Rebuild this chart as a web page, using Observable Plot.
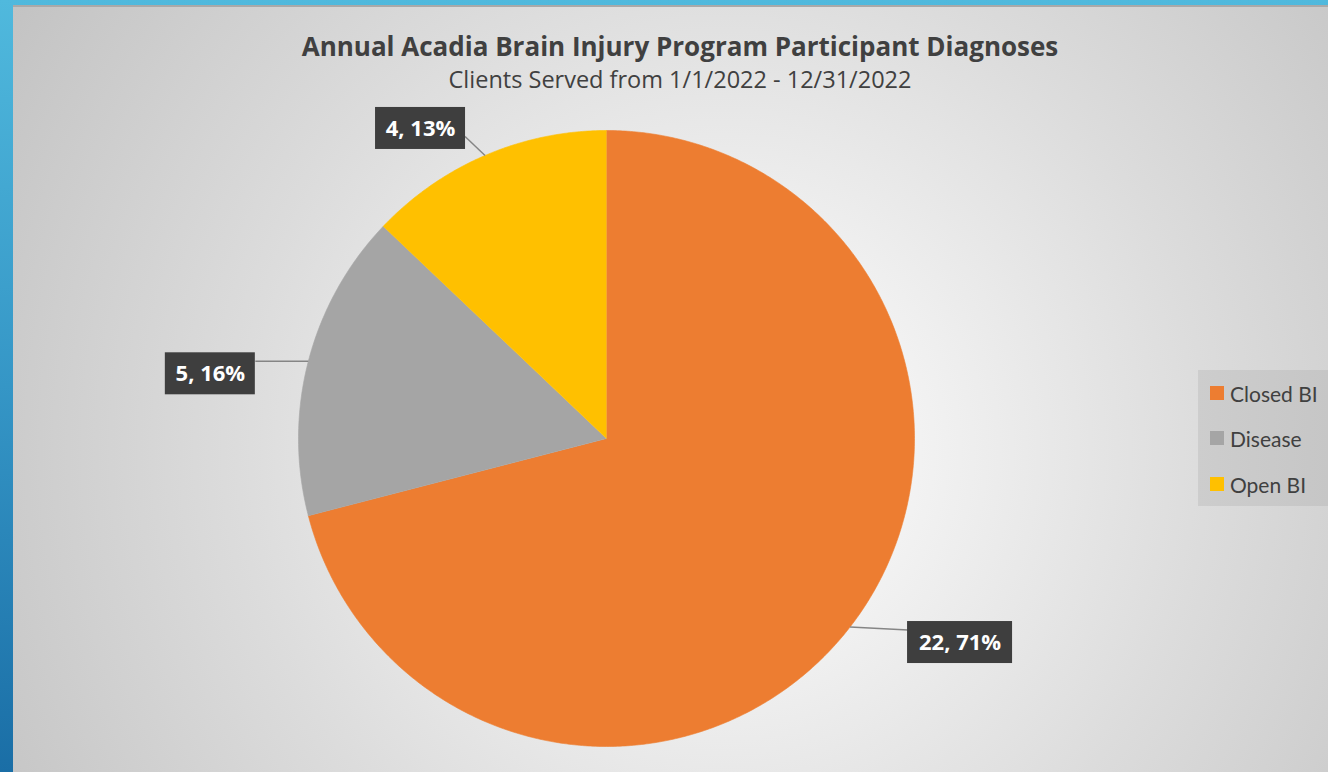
<!DOCTYPE html>
<html>
<head>
<meta charset="utf-8">
<script src="https://cdn.jsdelivr.net/npm/d3@7"></script>
<script src="https://cdn.jsdelivr.net/npm/@observablehq/plot@0.6"></script>
<style>
  html, body { margin: 0; padding: 0; }
  body {
    width: 1328px; height: 772px; overflow: hidden; position: relative;
    background: linear-gradient(to bottom, #50b9dd 0%, #3596c6 50%, #1a6ea6 100%);
    font-family: "Open Sans", Lato, sans-serif;
  }
  #panel {
    position: absolute; left: 13px; top: 5px; width: 1315px; height: 767px;
    background: radial-gradient(circle farthest-corner at 54% 58%, #ffffff 0%, #f3f3f3 22%, #dcdcdc 58%, #c3c3c3 100%);
    border-top: 2px solid #a9a9a9;
    box-sizing: border-box;
  }
  #title {
    position: absolute; left: 680px; top: 33px; transform: translateX(-50%);
    white-space: nowrap; font-weight: 700; font-size: 26px; line-height: 26px; color: #404040;
  }
  #subtitle {
    position: absolute; left: 680px; top: 68px; transform: translateX(-50%);
    white-space: nowrap; font-weight: 400; font-size: 23.5px; line-height: 23.5px; color: #404040;
  }
  #chart { position: absolute; left: 0; top: 0; }
  #legend {
    position: absolute; left: 1198px; top: 370px; width: 130px; height: 136px;
    background: linear-gradient(to right, #cdcdcd, #c6c6c6);
    font-family: Lato, sans-serif;
  }
  .item { position: absolute; left: 12px; height: 24px; display: flex; align-items: center;
    font-size: 21px; color: #404040; white-space: nowrap; }
  .sw { width: 14px; height: 14px; margin-right: 6px; }
</style>
</head>
<body>
<div id="panel"></div>
<div id="chart"></div>
<div id="title">Annual Acadia Brain Injury Program Participant Diagnoses</div>
<div id="subtitle">Clients Served from 1/1/2022 - 12/31/2022</div>
<div id="legend"></div>
<script>
// ---- data ----
const categories = ["Closed BI", "Disease", "Open BI"];
const counts = [22, 5, 4];
const percents = [71, 16, 13];
const sliceColors = ["#ED7D31", "#A5A5A5", "#FFC000"];

// ---- layout (pixels) ----
const R = 308;                       // pie radius in px
const labelOffsetPx = [[110, 15.5], [-98, 12.5], [-64.5, -27]];
const leaderEndPx = [[58, 3], [-53, 0], [-20, -19]];
const boxHeightPx = 42;

const arcs = d3.pie().sort(null).value(d => d).startAngle(0).endAngle(2 * Math.PI)(counts);

// slice outlines (unit-circle coordinates, y downward)
const slicePts = [];
arcs.forEach((a, i) => {
  const name = categories[i];
  slicePts.push({x: 0, y: 0, name, color: sliceColors[i]});
  const steps = Math.max(2, Math.ceil((a.endAngle - a.startAngle) / (Math.PI / 360)));
  for (let s = 0; s <= steps; s++) {
    const t = a.startAngle + (a.endAngle - a.startAngle) * s / steps;
    slicePts.push({x: Math.sin(t), y: -Math.cos(t), name, color: sliceColors[i]});
  }
});

const labels = arcs.map((a, i) => {
  const mid = (a.startAngle + a.endAngle) / 2;
  const ax = Math.sin(mid), ay = -Math.cos(mid);
  const text = `${counts[i]}, ${percents[i]}%`;
  const cx = ax + labelOffsetPx[i][0] / R, cy = ay + labelOffsetPx[i][1] / R;
  const w = 15 * text.length / R, h = boxHeightPx / R;
  return {
    text, ax, ay,
    lx: ax + leaderEndPx[i][0] / R, ly: ay + leaderEndPx[i][1] / R,
    cx, cy, x1: cx - w / 2, x2: cx + w / 2, y1: cy - h / 2, y2: cy + h / 2
  };
});

const cxPx = 606, cyPx = 438;
const plot = Plot.plot({
  width: 1328, height: 772,
  margin: 0,
  style: {background: "transparent", overflow: "visible"},
  x: {domain: [-1, 1], range: [cxPx - R, cxPx + R], axis: null},
  y: {domain: [-1, 1], range: [cyPx - R, cyPx + R], axis: null},
  marks: [
    Plot.line(slicePts, {x: "x", y: "y", z: "name", fill: "color", stroke: "color", strokeWidth: 0.6, curve: "linear"}),
    Plot.link(labels, {x1: "ax", y1: "ay", x2: "lx", y2: "ly", stroke: "#858585", strokeWidth: 1.5}),
    Plot.rect(labels, {x1: "x1", x2: "x2", y1: "y1", y2: "y2", fill: "#3e3e3e", ariaLabel: "label-box"}),
    Plot.text(labels, {x: "cx", y: "cy", text: "text", fill: "white", fontSize: 22, fontWeight: "bold", fontFamily: "'Open Sans', sans-serif"})
  ]
});

const ns = "http://www.w3.org/2000/svg";
const defs = document.createElementNS(ns, "defs");
defs.innerHTML = `
  <pattern id="dots" width="5.33" height="5.33" patternUnits="userSpaceOnUse">
    <rect width="5.33" height="5.33" fill="#3a3a3a"></rect>
    <rect x="2" y="2" width="1.7" height="1.7" fill="#5e5e5e"></rect>
  </pattern>
  <filter id="shadow" x="-20%" y="-40%" width="150%" height="200%">
    <feDropShadow dx="3" dy="5" stdDeviation="3" flood-color="#000" flood-opacity="0.5"></feDropShadow>
  </filter>`;
plot.insertBefore(defs, plot.firstChild);
const boxG = plot.querySelector('[aria-label="label-box"]');
if (boxG) {
  boxG.setAttribute("filter", "url(#shadow)");
  boxG.removeAttribute("fill");
  boxG.querySelectorAll("rect").forEach(r => r.setAttribute("fill", "url(#dots)"));
}
document.getElementById("chart").appendChild(plot);

// legend
const legend = document.getElementById("legend");
const rowTops = [11, 56, 102];
categories.forEach((c, i) => {
  const item = document.createElement("div");
  item.className = "item";
  item.style.top = rowTops[i] + "px";
  item.innerHTML = `<span class="sw" style="background:${sliceColors[i]}"></span><span>${c}</span>`;
  legend.appendChild(item);
});
</script>
</body>
</html>
